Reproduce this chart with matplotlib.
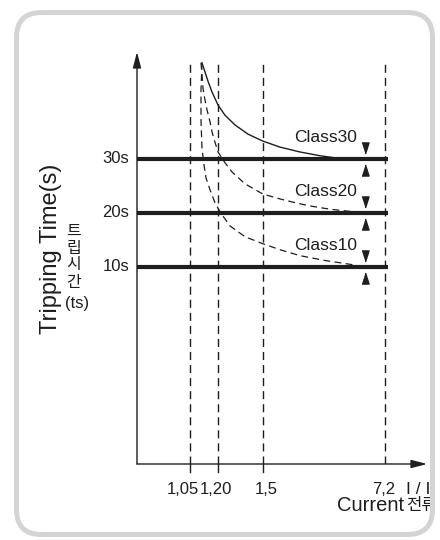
import matplotlib
matplotlib.use('Agg')
import matplotlib.pyplot as plt
from matplotlib.patches import FancyBboxPatch, Rectangle

plt.rcParams['font.family'] = ['Liberation Sans', 'Noto Sans CJK KR']

#%% data
# x positions along the current axis (px from origin) and their labels
current_pos = [53, 81, 126, 248]
current_labels = ['1,05', '1,20', '1,5', '7,2']
has_tick = [True, True, True, False]

class_names = ['Class30', 'Class20', 'Class10']
class_times = [30, 20, 10]

# trip curves: x (axis units), t (seconds)
class30_x = [65, 68, 71, 75, 81, 88, 98, 111, 126, 143, 163, 183, 203, 218]
class30_t = [47.8, 46.1, 44.4, 42.4, 40.0, 38.1, 36.3, 34.6, 33.3, 32.2, 31.3, 30.6, 30.1, 30.0]

class20_x = [64, 65, 66, 68, 70, 73, 75, 78, 81, 88, 95, 108, 126, 143, 156, 173, 193, 218, 228]
class20_t = [47.8, 45.6, 43.1, 40.9, 39.1, 36.9, 35.0, 33.1, 31.3, 29.3, 27.6, 25.4, 23.5, 22.6, 22.0, 21.3, 20.7, 20.2, 20.0]

class10_x = [65, 64, 64, 65, 67, 69, 73, 78, 83, 93, 108, 126, 143, 163, 188, 213, 228]
class10_t = [47.8, 42.8, 37.2, 32.0, 28.9, 26.5, 24.3, 21.9, 20.2, 17.6, 15.6, 14.3, 13.2, 12.1, 11.2, 10.5, 10.0]

#%% layout
ink = '#1e1e1e'
W, H = 440, 540
fig = plt.figure(figsize=(4.4, 5.4), dpi=100)
ax = fig.add_axes([137 / W, (H - 464) / H, 290 / W, 412 / H])
ax.set_xlim(0, 290)
ax.set_ylim(-26.48, 49.81)
ax.axis('off')

top_t = 47.9   # top of the dashed guide lines
bot_t = ax.get_ylim()[0]

# axes with arrows
ax.annotate('', xy=(0, 49.81), xytext=(0, bot_t), annotation_clip=False,
            arrowprops=dict(arrowstyle='-|>,head_length=0.95,head_width=0.25',
                            mutation_scale=10, lw=1.0, color=ink,
                            shrinkA=0, shrinkB=0))
ax.annotate('', xy=(290, bot_t), xytext=(0, bot_t), annotation_clip=False,
            arrowprops=dict(arrowstyle='-|>,head_length=0.95,head_width=0.25',
                            mutation_scale=10, lw=1.0, color=ink,
                            shrinkA=0, shrinkB=0))

# dashed guide lines and ticks
for xp, lab, tk in zip(current_pos, current_labels, has_tick):
    ax.plot([xp, xp], [bot_t, top_t], color=ink, lw=1.0,
            linestyle=(0, (5.8, 3.6)), zorder=2)
    if tk:
        ax.plot([xp, xp], [bot_t, bot_t - 1.5], color=ink, lw=1.0,
                clip_on=False, zorder=2)

lab_x = [46, 79, 129, 247]
for xp, lab in zip(lab_x, current_labels):
    ax.text(xp, -31.2, lab, ha='center', va='center', fontsize=12,
            color=ink, clip_on=False)
ax.text(269, -31.2, 'I / In', ha='left', va='center', fontsize=12.5,
        color=ink, clip_on=False)
ax.text(200, -34.2, 'Current', ha='left', va='center', fontsize=14.5,
        color=ink, clip_on=False)
ax.text(269, -34.2, '전류', ha='left', va='center', fontsize=12,
        color=ink, clip_on=False)

# class levels
for name, t in zip(class_names, class_times):
    ax.plot([0, 251], [t, t], color=ink, lw=3.0, solid_capstyle='butt', zorder=4)
    ax.text(-8, t, f'{t}s', ha='right', va='center', fontsize=12,
            color=ink, clip_on=False)
    ax.text(220, t + 4.0, name, ha='right', va='center', fontsize=12.5,
            color=ink)

down_tri = [(-3.5, 5.5), (3.5, 5.5), (0, -5.5)]
up_tri = [(-3.5, -5.5), (3.5, -5.5), (0, 5.5)]
ax.plot([228] * 3, [t + 2.0 for t in class_times], linestyle='none',
        marker=down_tri, markersize=8, color=ink, zorder=5)
ax.plot([228] * 3, [t - 2.1 for t in class_times], linestyle='none',
        marker=up_tri, markersize=8, color=ink, zorder=5)

# trip curves
ax.plot(class30_x, class30_t, color=ink, lw=1.0, zorder=3)
ax.plot(class20_x, class20_t, color=ink, lw=0.9, linestyle=(0, (5.5, 3.5)), zorder=3)
ax.plot(class10_x, class10_t, color=ink, lw=0.9, linestyle=(0, (5.5, 3.5)), zorder=3)

# axis titles
ax.text(-86, 13.3, 'Tripping Time(s)', rotation=90, ha='center', va='center',
        fontsize=17, color=ink, clip_on=False)
for ch, t in zip(['트', '립', '시', '간'], [16.5, 13.5, 10.4, 7.2]):
    ax.text(-63, t, ch, ha='center', va='center', fontsize=11.5,
            color=ink, clip_on=False)
ax.text(-60, 3.3, '(ts)', ha='center', va='center', fontsize=12,
        color=ink, clip_on=False)

#%% rounded frame on top
ov = fig.add_axes([0, 0, 1, 1], zorder=10)
ov.set_xlim(0, W)
ov.set_ylim(H, 0)
ov.axis('off')
ov.patch.set_alpha(0)
ov.add_patch(Rectangle((434, 0), 6, H, color='white', lw=0))
ov.add_patch(FancyBboxPatch((16.5, 12.5), 416, 522,
                            boxstyle='round,pad=0,rounding_size=25',
                            fill=False, ec='#d4d4d4', lw=3.6))

fig.savefig('out.png', dpi=100)
